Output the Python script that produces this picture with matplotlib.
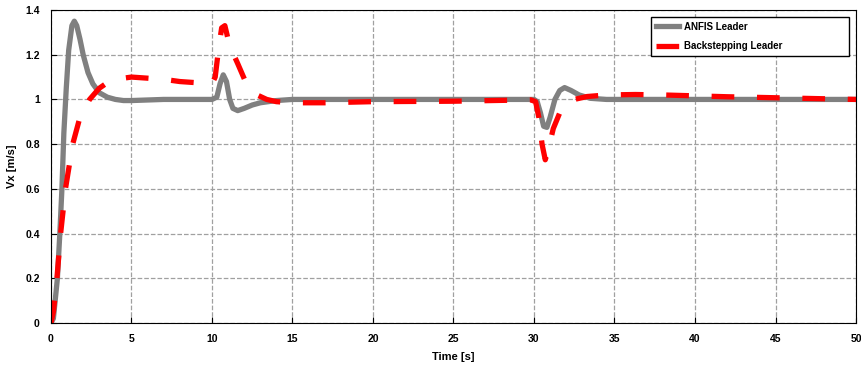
import matplotlib.pyplot as plt

# ANFIS leader response
t_anfis = [0, 0.15, 0.4, 0.55, 0.68, 0.8, 0.95, 1.1, 1.3, 1.45, 1.6, 1.8, 2.0, 2.3, 2.6, 3.0, 3.5,
           4.0, 4.5, 5, 7, 10, 10.3, 10.5, 10.7, 10.9, 11.1, 11.3, 11.6, 12, 12.5, 13,
           14, 15, 20, 30, 30.2, 30.4, 30.6, 30.8, 31.0, 31.3, 31.6, 31.9, 32.3, 32.8,
           33.5, 34.5, 40, 50]
v_anfis = [0, 0.02, 0.2, 0.4, 0.6, 0.85, 1.05, 1.22, 1.33, 1.35, 1.33, 1.27, 1.2, 1.12, 1.07, 1.03, 1.01,
           1.0, 0.995, 0.995, 1.0, 1.0, 1.01, 1.07, 1.11, 1.08, 1.0, 0.96, 0.95, 0.96, 0.975, 0.985,
           0.995, 1.0, 1.0, 1.0, 0.99, 0.94, 0.88, 0.875, 0.92, 1.0, 1.04, 1.053, 1.04, 1.02,
           1.005, 1.0, 1.0, 1.0]

# Backstepping leader response
t_back = [0, 0.15, 0.37, 0.6, 0.9, 1.35, 1.8, 2.4, 3.0, 3.5, 4.0, 5.0, 6, 7, 8, 9,
          10, 10.2, 10.4, 10.6, 10.8, 11.1, 11.6, 12.2, 12.8, 13.4, 14, 15, 17, 20, 25,
          29.8, 30.1, 30.3, 30.5, 30.7, 30.9, 31.2, 31.6, 32, 32.5, 33.3, 34.5, 36.3, 38, 42, 46, 50]
v_back = [0, 0.05, 0.2, 0.4, 0.6, 0.8, 0.92, 1.0, 1.05, 1.075, 1.09, 1.1, 1.095, 1.09, 1.08, 1.075,
          1.07, 1.1, 1.22, 1.32, 1.33, 1.24, 1.16, 1.06, 1.02, 1.0, 0.99, 0.985, 0.985, 0.99, 0.992,
          0.998, 0.99, 0.92, 0.8, 0.73, 0.78, 0.87, 0.94, 0.98, 1.0, 1.013, 1.02, 1.022, 1.02, 1.012, 1.006, 1.0]

plt.rcParams['font.family'] = ['Liberation Sans', 'DejaVu Sans']
plt.rcParams['font.weight'] = 'bold'

fig = plt.figure(figsize=(8.61, 3.65), dpi=100)
ax = fig.add_axes([0.0592, 0.1151, 0.935, 0.8575])

ax.plot(t_anfis, v_anfis, color='#808080', lw=3.8, label='ANFIS Leader')
ax.plot(t_back, v_back, color='#ff0000', lw=3.8, dashes=(4.3, 4.3), label='Backstepping Leader')

ax.set_xlim(0, 50)
ax.set_ylim(0, 1.4)
ax.set_xticks(range(0, 51, 5))
ax.set_yticks([0, 0.2, 0.4, 0.6, 0.8, 1, 1.2, 1.4])
ax.set_yticklabels(['0', '0.2', '0.4', '0.6', '0.8', '1', '1.2', '1.4'])
ax.tick_params(direction='in', labelsize=7.5, length=4, pad=8)
for lab in ax.get_xticklabels() + ax.get_yticklabels():
    lab.set_fontweight('bold')

ax.grid(True, ls='--', color='#a0a0a0', lw=0.9)
ax.set_xlabel('Time [s]', fontsize=8, fontweight='bold', labelpad=6)
ax.set_ylabel('Vx [m/s]', fontsize=8, fontweight='bold', labelpad=6)

leg = ax.legend(loc='upper left', bbox_to_anchor=(0.745, 0.85, 0.246, 0.128), mode='expand',
                prop={'weight': 'bold', 'size': 7}, fancybox=False, edgecolor='black',
                framealpha=1, handlelength=2.4, handletextpad=0.5, borderaxespad=0,
                borderpad=0.5, labelspacing=1.0)
leg.get_frame().set_linewidth(1.0)

fig.savefig('out.png', dpi=100)
